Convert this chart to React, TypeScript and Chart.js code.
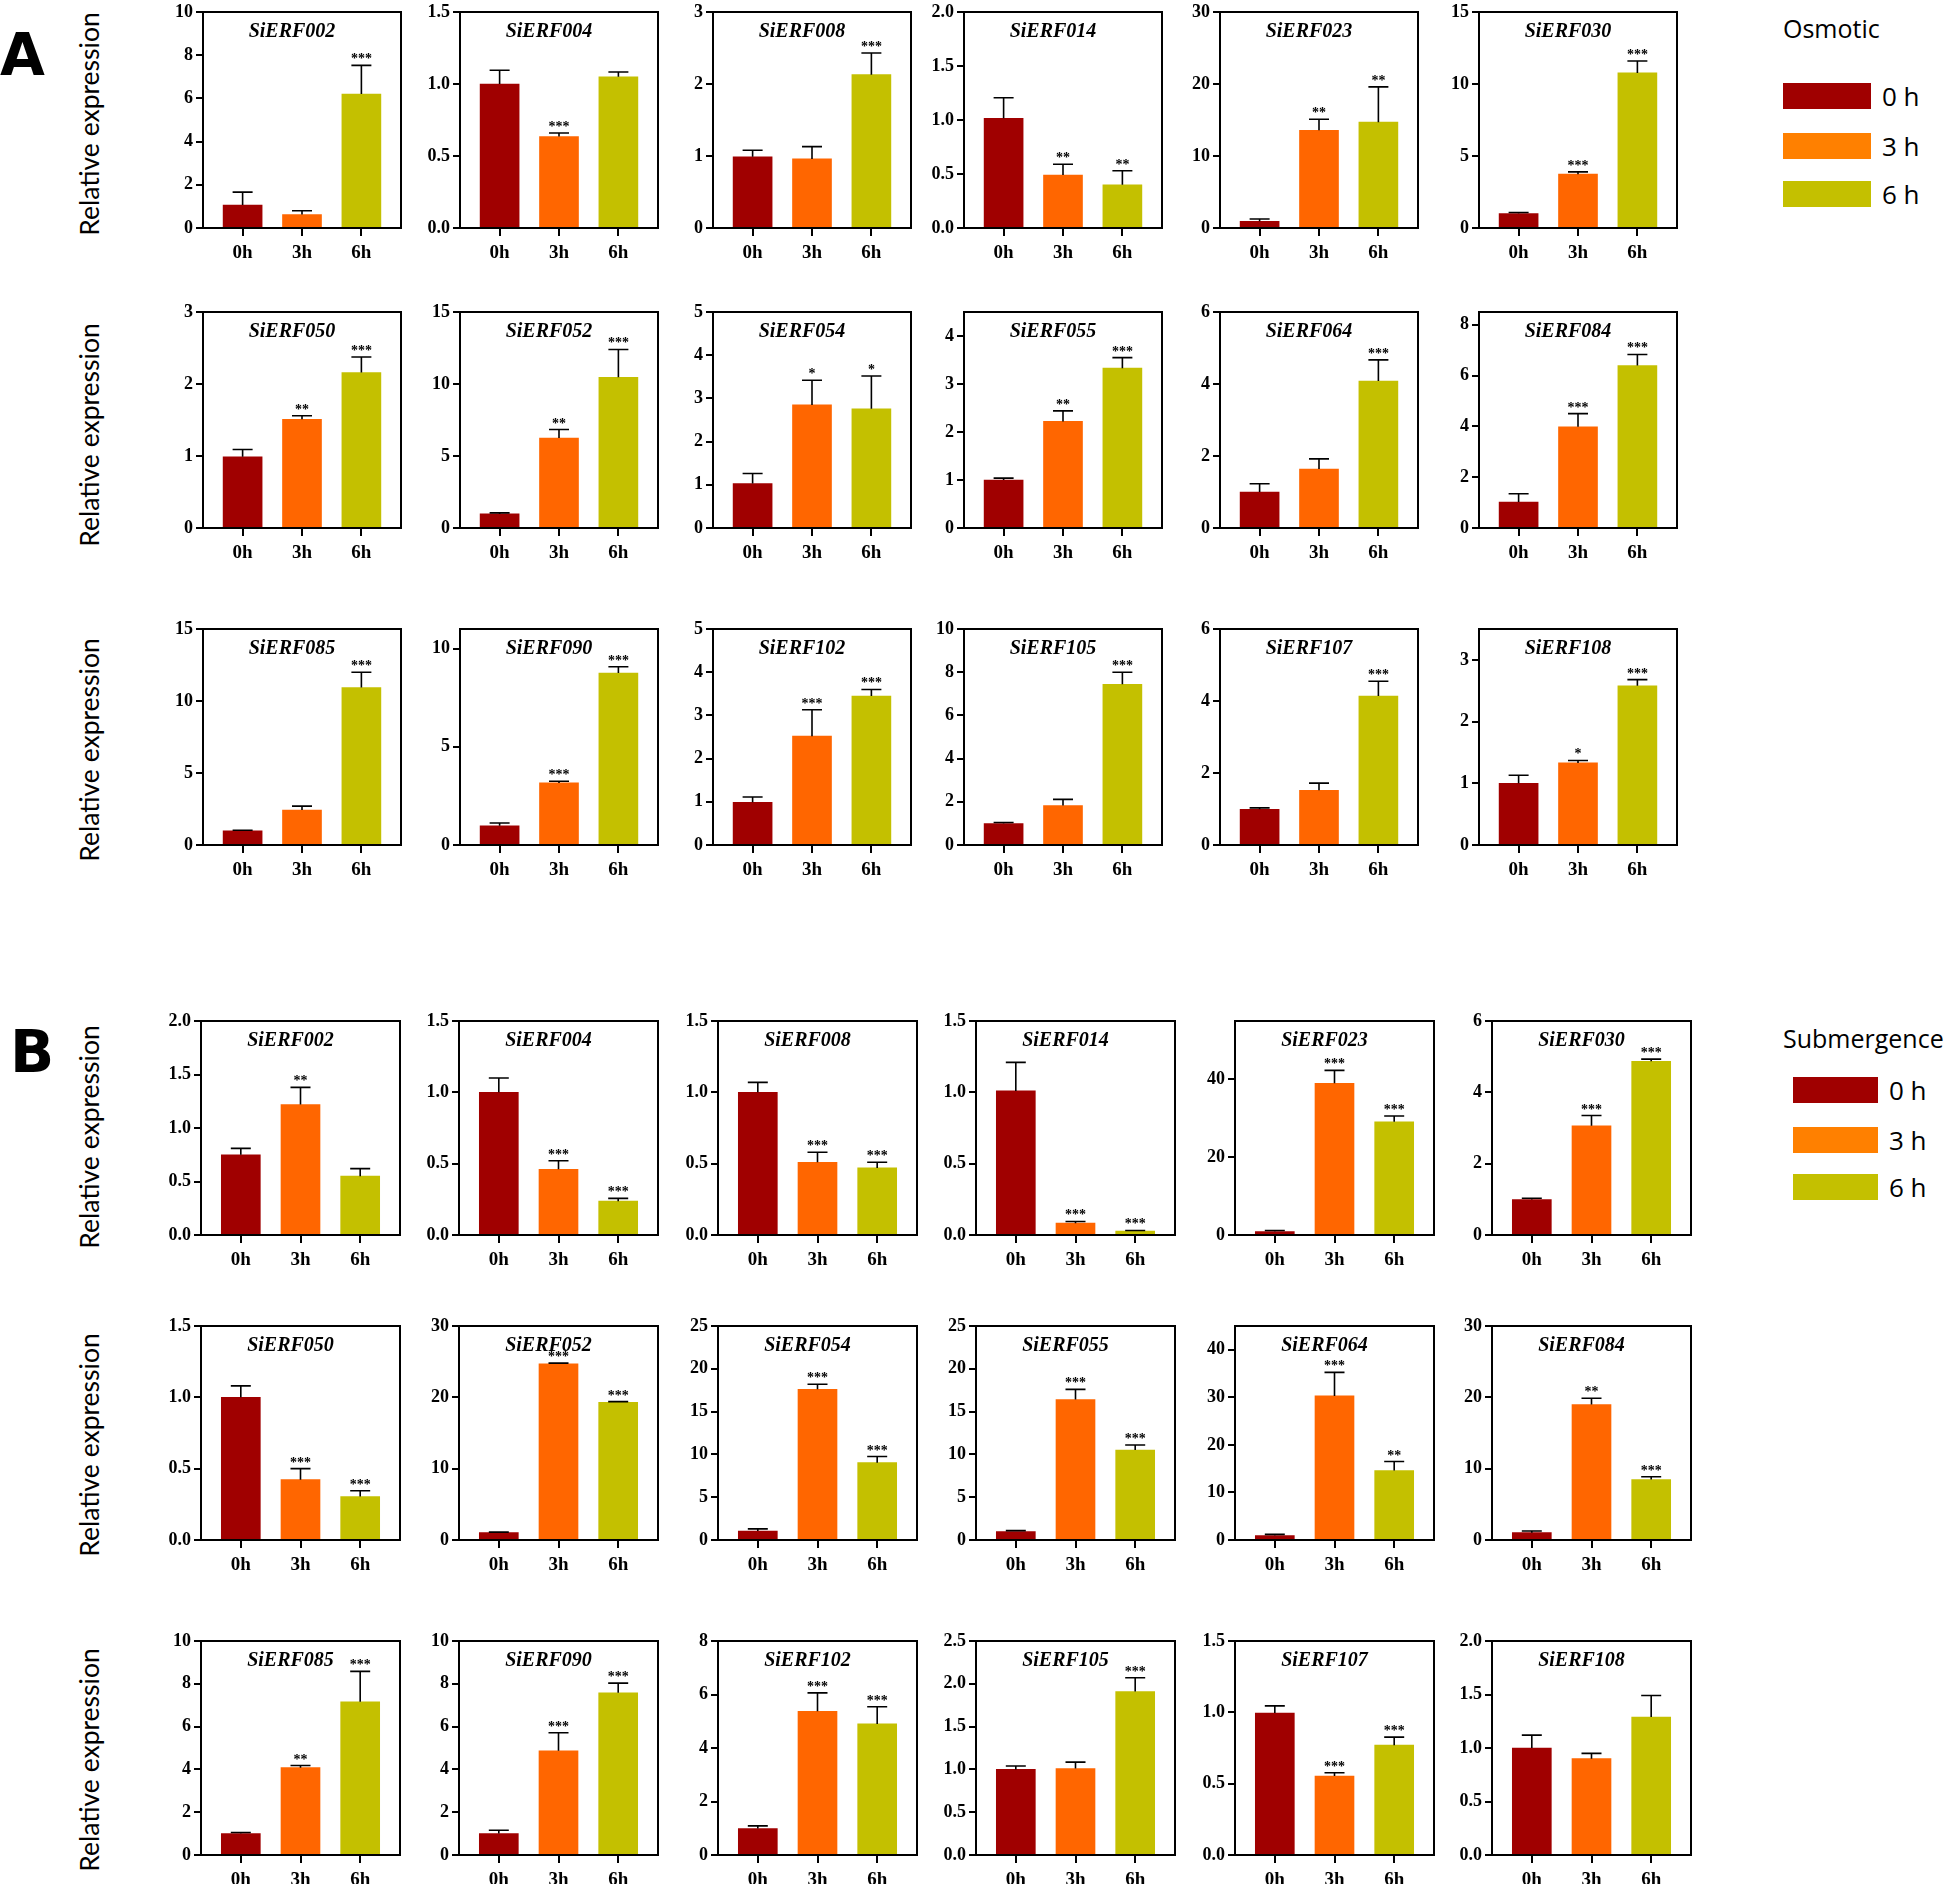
import React, { useEffect, useRef } from 'react';
import { Chart, registerables } from 'chart.js';

Chart.register(...registerables);

// ---------------- data ----------------
const TIME_LABELS = ['0h', '3h', '6h'];
const LEGEND_LABELS = ['0 h', '3 h', '6 h'];
const GENES = [
  'SiERF002', 'SiERF004', 'SiERF008', 'SiERF014', 'SiERF023', 'SiERF030',
  'SiERF050', 'SiERF052', 'SiERF054', 'SiERF055', 'SiERF064', 'SiERF084',
  'SiERF085', 'SiERF090', 'SiERF102', 'SiERF105', 'SiERF107', 'SiERF108',
];

// Osmotic (panel A)
const OSM_MEAN = [
  [1.06, 0.62, 6.2], [1.0, 0.635, 1.05], [0.99, 0.96, 2.13], [1.016, 0.49, 0.4], [0.94, 13.56, 14.7], [1.0, 3.74, 10.77],
  [0.99, 1.51, 2.16], [0.98, 6.25, 10.47], [1.03, 2.85, 2.76], [1.0, 2.22, 3.33], [1.0, 1.64, 4.08], [1.02, 3.98, 6.39],
  [0.98, 2.43, 10.93], [0.98, 3.16, 8.76], [0.99, 2.52, 3.45], [0.99, 1.83, 7.44], [0.99, 1.52, 4.14], [1.0, 1.33, 2.58],
];
const OSM_SD = [
  [0.6, 0.18, 1.33], [0.095, 0.025, 0.033], [0.09, 0.17, 0.3], [0.19, 0.1, 0.13], [0.31, 1.54, 4.9], [0.08, 0.16, 0.83],
  [0.1, 0.05, 0.215], [0.07, 0.59, 1.93], [0.23, 0.57, 0.76], [0.04, 0.22, 0.22], [0.23, 0.28, 0.59], [0.33, 0.52, 0.44],
  [0.04, 0.27, 1.07], [0.14, 0.09, 0.32], [0.12, 0.61, 0.15], [0.05, 0.28, 0.56], [0.04, 0.2, 0.41], [0.13, 0.04, 0.1],
];
const OSM_SIG = [
  ['', '', '***'], ['', '***', ''], ['', '', '***'], ['', '**', '**'], ['', '**', '**'], ['', '***', '***'],
  ['', '**', '***'], ['', '**', '***'], ['', '*', '*'], ['', '**', '***'], ['', '', '***'], ['', '***', '***'],
  ['', '', '***'], ['', '***', '***'], ['', '***', '***'], ['', '', '***'], ['', '', '***'], ['', '*', '***'],
];
const OSM_YMAX = [10, 1.5, 3, 2, 30, 15, 3, 15, 5, 4.5, 6, 8.5, 15, 11, 5, 10, 6, 3.5];
const OSM_YSTEP = [2, 0.5, 1, 0.5, 10, 5, 1, 5, 1, 1, 2, 2, 5, 5, 1, 2, 2, 1];

// Submergence (panel B)
const SUB_MEAN = [
  [0.75, 1.22, 0.55], [1.0, 0.46, 0.237], [1.0, 0.51, 0.47], [1.01, 0.083, 0.028], [0.87, 39.0, 29.1], [0.995, 3.06, 4.87],
  [1.0, 0.423, 0.305], [1.03, 24.7, 19.3], [1.05, 17.6, 9.03], [0.99, 16.4, 10.5], [0.95, 30.3, 14.6], [1.03, 19.0, 8.47],
  [1.0, 4.08, 7.16], [1.0, 4.87, 7.58], [0.99, 5.37, 4.9], [1.0, 1.01, 1.91], [0.995, 0.553, 0.77], [1.0, 0.9, 1.29],
];
const SUB_SD = [
  [0.06, 0.16, 0.07], [0.1, 0.06, 0.02], [0.07, 0.07, 0.04], [0.2, 0.012, 0.004], [0.29, 3.3, 1.5], [0.035, 0.29, 0.06],
  [0.08, 0.077, 0.04], [0.07, 0.1, 0.1], [0.25, 0.6, 0.72], [0.11, 1.2, 0.6], [0.24, 4.95, 1.9], [0.24, 0.87, 0.4],
  [0.05, 0.1, 1.42], [0.16, 0.84, 0.45], [0.1, 0.69, 0.64], [0.04, 0.075, 0.16], [0.05, 0.024, 0.056], [0.12, 0.05, 0.2],
];
const SUB_SIG = [
  ['', '**', ''], ['', '***', '***'], ['', '***', '***'], ['', '***', '***'], ['', '***', '***'], ['', '***', '***'],
  ['', '***', '***'], ['', '***', '***'], ['', '***', '***'], ['', '***', '***'], ['', '***', '**'], ['', '**', '***'],
  ['', '**', '***'], ['', '***', '***'], ['', '***', '***'], ['', '', '***'], ['', '***', '***'], ['', '', ''],
];
const SUB_YMAX = [2, 1.5, 1.5, 1.5, 55, 6, 1.5, 30, 25, 25, 45, 30, 10, 10, 8, 2.5, 1.5, 2];
const SUB_YSTEP = [0.5, 0.5, 0.5, 0.5, 20, 2, 0.5, 10, 5, 5, 10, 10, 2, 2, 2, 0.5, 0.5, 0.5];

// ---------------- styles / layout ----------------
const BAR_COLORS = ['#A00000', '#FF6600', '#C4C000'];
const LEGEND_COLORS = ['#A00000', '#FF8000', '#C4C000'];
const SERIF = '"Liberation Serif", "Times New Roman", serif';

const A_COL_X = [203, 460, 713, 964, 1220, 1479];
const A_ROW_Y = [12, 312, 629];
const A_W = 198;
const A_H = 216;
const B_COL_X = [201, 459, 718, 976, 1235, 1492];
const B_ROW_Y = [1021, 1326, 1641];
const B_W = 199;
const B_H = 214;

const AXW = 70; // space left of plot (y axis)
const PT = 16; // space above plot
const PR = 10; // space right of plot
const XAH = 45; // x axis height

type PanelProps = {
  title: string;
  mean: number[];
  sd: number[];
  sig: string[];
  ymax: number;
  ystep: number;
  x: number;
  y: number;
  w: number;
  h: number;
};

function Panel({ title, mean, sd, sig, ymax, ystep, x, y, w, h }: PanelProps) {
  const ref = useRef<HTMLCanvasElement | null>(null);
  const cw = w + AXW + PR;
  const ch = h + PT + XAH;

  useEffect(() => {
    if (!ref.current) return;
    const a = 0.667;
    const deco = {
      id: 'deco',
      afterDatasetsDraw(chart: any) {
        const { ctx, chartArea: ca, scales } = chart;
        const yS = scales.y;
        const meta = chart.getDatasetMeta(0);
        ctx.save();
        ctx.strokeStyle = '#000';
        ctx.fillStyle = '#000';
        meta.data.forEach((bar: any, i: number) => {
          const top = yS.getPixelForValue(mean[i]);
          const et = yS.getPixelForValue(mean[i] + sd[i]);
          ctx.lineWidth = 1.6;
          ctx.beginPath();
          ctx.moveTo(bar.x, top);
          ctx.lineTo(bar.x, et);
          ctx.moveTo(bar.x - 10, et);
          ctx.lineTo(bar.x + 10, et);
          ctx.stroke();
          if (sig[i]) {
            ctx.font = `bold 14px ${SERIF}`;
            ctx.textAlign = 'center';
            ctx.textBaseline = 'alphabetic';
            ctx.fillText(sig[i], bar.x, et - 2);
          }
        });
        ctx.lineWidth = 2;
        ctx.strokeRect(ca.left, ca.top, ca.right - ca.left, ca.bottom - ca.top);
        ctx.font = `italic bold 20px ${SERIF}`;
        ctx.textAlign = 'center';
        ctx.textBaseline = 'alphabetic';
        ctx.fillText(title, (ca.left + ca.right) / 2 - 10, ca.top + 25);
        ctx.restore();
      },
    };

    const chart = new Chart(ref.current, {
      type: 'bar',
      data: {
        datasets: [
          {
            data: mean.map((v, i) => ({ x: i, y: v })),
            backgroundColor: BAR_COLORS,
            borderWidth: 0,
            barThickness: 39,
          },
        ],
      },
      options: {
        responsive: false,
        animation: false,
        devicePixelRatio: 1,
        events: [],
        layout: { padding: { left: 0, top: PT, right: PR, bottom: 0 } },
        plugins: { legend: { display: false }, tooltip: { enabled: false } },
        scales: {
          x: {
            type: 'linear',
            offset: false,
            min: -a,
            max: 2 + a,
            afterBuildTicks: (s: any) => {
              s.ticks = TIME_LABELS.map((_, i) => ({ value: i }));
            },
            afterFit: (s: any) => {
              s.height = XAH;
            },
            ticks: {
              autoSkip: false,
              maxRotation: 0,
              padding: 6,
              color: '#000',
              font: { family: SERIF, size: 19, weight: 'bold' },
              callback: (v: any) => TIME_LABELS[Math.round(Number(v))],
            },
            grid: { offset: false, drawOnChartArea: false, drawTicks: true, tickLength: 8, tickWidth: 2, lineWidth: 2, color: '#000' },
            border: { display: true, color: '#000', width: 2 },
          },
          y: {
            type: 'linear',
            min: 0,
            max: ymax,
            afterBuildTicks: (s: any) => {
              const t: any[] = [];
              for (let k = 0; k * ystep <= ymax + 1e-9; k++) t.push({ value: +(k * ystep).toFixed(4) });
              s.ticks = t;
            },
            afterFit: (s: any) => {
              s.width = AXW;
            },
            ticks: {
              autoSkip: false,
              padding: 3,
              color: '#000',
              font: { family: SERIF, size: 18, weight: 'bold' },
              callback: (v: any) => (ystep < 1 ? Number(v).toFixed(1) : String(v)),
            },
            grid: { drawOnChartArea: false, drawTicks: true, tickLength: 7, tickWidth: 2, lineWidth: 2, color: '#000' },
            border: { display: true, color: '#000', width: 2 },
          },
        },
      } as any,
      plugins: [deco as any],
    });
    return () => chart.destroy();
  }, [title, mean, sd, sig, ymax, ystep, w, h]);

  return (
    <canvas
      ref={ref}
      width={cw}
      height={ch}
      style={{ position: 'absolute', left: x - AXW, top: y - PT, width: cw, height: ch }}
    />
  );
}

function Legend({ title, x, y, boxX, boxW, labelX, boxYs }: { title: string; x: number; y: number; boxX: number; boxW: number; labelX: number; boxYs: number[] }) {
  return (
    <>
      <div
        style={{
          position: 'absolute',
          left: x,
          top: y,
          font: '25px "Open Sans", sans-serif',
          lineHeight: '30px',
          color: '#000',
          whiteSpace: 'nowrap',
        }}
      >
        {title}
      </div>
      {LEGEND_LABELS.map((lab, i) => (
        <React.Fragment key={lab}>
          <div
            style={{
              position: 'absolute',
              left: boxX,
              top: boxYs[i],
              width: boxW,
              height: 26,
              background: LEGEND_COLORS[i],
            }}
          />
          <div
            style={{
              position: 'absolute',
              left: labelX,
              top: boxYs[i] + 13 - 18,
              font: '26px "Open Sans", sans-serif',
              lineHeight: '36px',
              color: '#000',
              whiteSpace: 'nowrap',
            }}
          >
            {lab}
          </div>
        </React.Fragment>
      ))}
    </>
  );
}

function YLabel({ cx, cy }: { cx: number; cy: number }) {
  return (
    <div
      style={{
        position: 'absolute',
        left: cx,
        top: cy,
        transform: 'translate(-50%, -50%) rotate(-90deg)',
        font: '26.5px Lato, sans-serif',
        lineHeight: '27px',
        whiteSpace: 'nowrap',
        color: '#000',
      }}
    >
      Relative expression
    </div>
  );
}

export default function App() {
  const A_LABEL_Y = [124, 435, 750];
  const B_LABEL_Y = [1137, 1445, 1760];
  return (
    <div style={{ position: 'absolute', left: 0, top: 0, width: 1952, height: 1884, background: '#fff', overflow: 'hidden' }}>
      <div style={{ position: 'absolute', left: 0, top: 20, font: 'bold 58px "DejaVu Sans", sans-serif', lineHeight: '70px' }}>A</div>
      <div style={{ position: 'absolute', left: 10, top: 1017, font: 'bold 58px "DejaVu Sans", sans-serif', lineHeight: '70px' }}>B</div>
      {A_LABEL_Y.map((cy) => (
        <YLabel key={'a' + cy} cx={89} cy={cy} />
      ))}
      {B_LABEL_Y.map((cy) => (
        <YLabel key={'b' + cy} cx={89} cy={cy} />
      ))}
      {GENES.map((g, i) => (
        <Panel
          key={'A' + g}
          title={g}
          mean={OSM_MEAN[i]}
          sd={OSM_SD[i]}
          sig={OSM_SIG[i]}
          ymax={OSM_YMAX[i]}
          ystep={OSM_YSTEP[i]}
          x={A_COL_X[i % 6]}
          y={A_ROW_Y[Math.floor(i / 6)]}
          w={A_W}
          h={A_H}
        />
      ))}
      {GENES.map((g, i) => (
        <Panel
          key={'B' + g}
          title={g}
          mean={SUB_MEAN[i]}
          sd={SUB_SD[i]}
          sig={SUB_SIG[i]}
          ymax={SUB_YMAX[i]}
          ystep={SUB_YSTEP[i]}
          x={B_COL_X[i % 6]}
          y={B_ROW_Y[Math.floor(i / 6)]}
          w={B_W}
          h={B_H}
        />
      ))}
      <Legend title="Osmotic" x={1783} y={13} boxX={1783} boxW={88} labelX={1882} boxYs={[83, 133, 181]} />
      <Legend title="Submergence" x={1783} y={1023} boxX={1793} boxW={85} labelX={1889} boxYs={[1077, 1127, 1174]} />
    </div>
  );
}
